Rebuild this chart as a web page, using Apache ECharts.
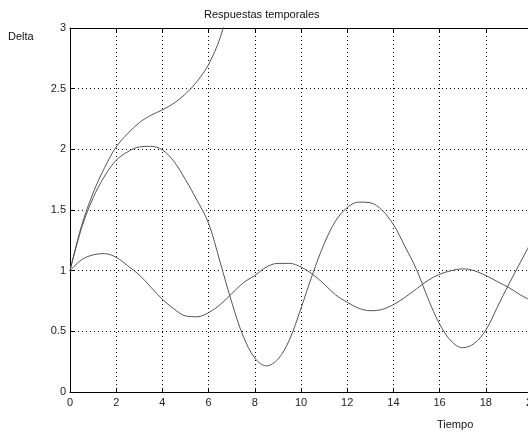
<!DOCTYPE html>
<html>
<head>
<meta charset="utf-8">
<script src="https://cdn.jsdelivr.net/npm/echarts@6/dist/echarts.min.js"></script>
<style>
  html, body { margin: 0; padding: 0; background: #fff; }
  #chart { width: 528px; height: 432px; }
</style>
</head>
<body>
<div id="chart"></div>
<script>
  var chart = echarts.init(document.getElementById('chart'))

  // tiempos (paso 0.5)
  var tA = [0, 0.5, 1, 1.5, 2, 2.5, 3, 3.5, 4, 4.5, 5, 5.5, 6, 6.5, 7]
  var tBC = [0, 0.5, 1, 1.5, 2, 2.5, 3, 3.5, 4, 4.5, 5, 5.5, 6, 6.5, 7, 7.5, 8, 8.5, 9, 9.5,
    10, 10.5, 11, 11.5, 12, 12.5, 13, 13.5, 14, 14.5, 15, 15.5, 16, 16.5, 17, 17.5, 18, 18.5, 19, 19.5, 20]

  // respuesta que diverge
  var deltaA = [1, 1.37, 1.64, 1.85, 2.02, 2.13, 2.22, 2.28, 2.325, 2.38, 2.457, 2.56, 2.7, 2.92, 3.25]
  // oscilación grande
  var deltaB = [1, 1.35, 1.6, 1.78, 1.91, 1.98, 2.02, 2.025, 1.995, 1.9, 1.75, 1.58, 1.39, 1.07, 0.74, 0.46, 0.28, 0.215, 0.27, 0.43,
    0.69, 0.97, 1.22, 1.41, 1.52, 1.565, 1.56, 1.5, 1.38, 1.2, 1.01, 0.77, 0.56, 0.42, 0.365, 0.4, 0.51, 0.7, 0.89, 1.07, 1.25]
  // oscilación pequeña
  var deltaC = [1, 1.09, 1.13, 1.14, 1.11, 1.04, 0.965, 0.864, 0.764, 0.685, 0.627, 0.62, 0.654, 0.72, 0.81, 0.9, 0.96, 1.03, 1.06, 1.06,
    1.03, 0.97, 0.89, 0.8, 0.74, 0.69, 0.67, 0.68, 0.72, 0.78, 0.85, 0.92, 0.97, 1.0, 1.015, 1.0, 0.96, 0.91, 0.86, 0.8, 0.75]

  var font = 'Liberation Sans, Arial, sans-serif'
  var pairs = function (xs, ys) { return xs.map(function (x, i) { return [x, ys[i]] }) }
  var lineSerie = function (xs, ys) {
    return {
      type: 'line', data: pairs(xs, ys), smooth: 0.35, showSymbol: false, clip: true,
      lineStyle: { color: '#555', width: 1 }, silent: true
    }
  }
  var dots = { show: true, lineStyle: { color: '#000', width: 1, type: [1, 3] } }
  var txt = { fontFamily: font, fontSize: 11, fontWeight: 'normal', color: '#111' }

  var option = {
    animation: false,
    backgroundColor: '#fff',
    title: [
      { text: 'Respuestas temporales', left: 204, top: 9, padding: 0, textStyle: txt },
      { text: 'Delta', left: 8, top: 31, padding: 0, textStyle: txt },
      { text: 'Tiempo', left: 437, top: 419, padding: 0, textStyle: txt }
    ],
    grid: { left: 70, top: 28, right: -4, bottom: 40, containLabel: false, outerBoundsMode: 'none' },
    xAxis: [
      {
        type: 'value', min: 0, max: 20, interval: 2, position: 'bottom',
        axisLine: { show: true, lineStyle: { color: '#000', width: 1 } },
        axisTick: { show: true, inside: true, length: 4, lineStyle: { color: '#000' } },
        axisLabel: { fontFamily: font, fontSize: 11, color: '#222', margin: 5 },
        splitLine: dots
      },
      {
        type: 'value', min: 0, max: 20, interval: 2, position: 'top',
        axisLine: { show: true, lineStyle: { color: '#000', width: 1 } },
        axisTick: { show: true, inside: true, length: 4, lineStyle: { color: '#000' } },
        axisLabel: { show: false },
        splitLine: { show: false }
      }
    ],
    yAxis: {
      type: 'value', min: 0, max: 3, interval: 0.5,
      axisLine: { show: true, lineStyle: { color: '#000', width: 1 } },
      axisTick: { show: true, inside: true, length: 4, lineStyle: { color: '#000' } },
      axisLabel: { fontFamily: font, fontSize: 11, color: '#222', margin: 4 },
      splitLine: dots
    },
    series: [lineSerie(tA, deltaA), lineSerie(tBC, deltaB), lineSerie(tBC, deltaC)]
  }

  chart.setOption(option)
</script>
</body>
</html>
